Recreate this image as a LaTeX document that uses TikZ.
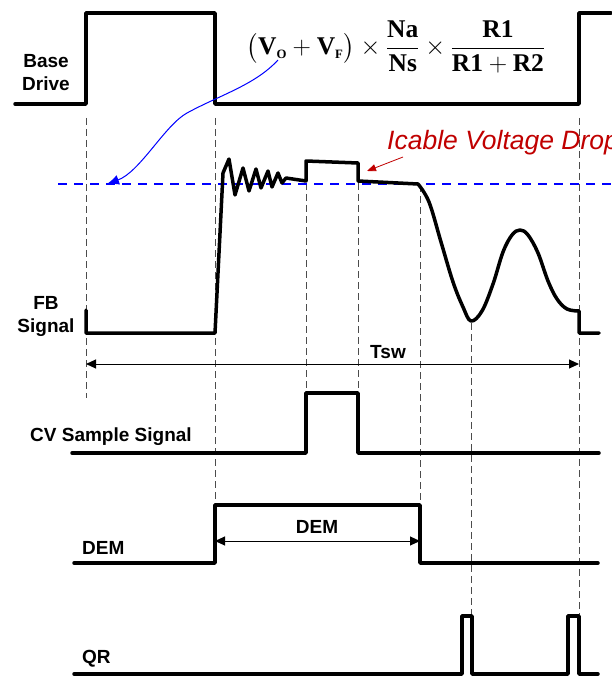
\RequirePackage{fix-cm}
\documentclass[tikz,border=0pt]{standalone}
\usepackage{amsmath}
\usepackage{fontspec}
\setmainfont{Liberation Serif}
\setsansfont{Liberation Sans}
\usetikzlibrary{arrows.meta}
\definecolor{dropred}{RGB}{192,0,0}
\definecolor{fbblue}{RGB}{0,0,255}
\newcommand\lblfont{\sffamily\bfseries\fontsize{19}{23}\selectfont}
\tikzset{
    signal/.style={
        line width=3.5pt,
        line join=round,
        line cap=round
    },
    guide/.style={
        dash pattern=on 7pt off 4pt,
        line width=0.9pt,
        draw=black!70
    },
    fbline/.style={
        color=fbblue,
        dash pattern=on 9pt off 7pt,
        line width=1.3pt
    },
    lbl/.style={
        font=\lblfont,
        inner sep=0pt
    },
    span/.style={
        {Triangle[length=10pt,width=9pt]}-{Triangle[length=10pt,width=9pt]},
        line width=1pt
    },
    formula/.style={
        font=\bfseries\fontsize{25.5}{30}\selectfont,
        inner sep=0pt
    }
}

\begin{document}
\begin{tikzpicture}[x=1pt,y=-1pt]
\useasboundingbox (0,0) rectangle (611,676);

% guide lines
\foreach \x/\ya/\yb in {86/118/398, 215/118/505, 306/183/393, 358/183/393,
                        420/185/505, 471/323/616, 579/118/616}
    \draw[guide] (\x,\ya) -- (\x,\yb);

\draw[fbline] (58,184) -- (611,184);

% labels
\node[lbl, align=center] (base) at (46,73) {Base\\Drive};
\node[lbl, align=center] (fb) at (46,316) {FB\\Signal};
\node[lbl, anchor=west] (cv) at (30,437) {CV Sample Signal};
\node[lbl, anchor=west] (dem) at (82,548) {DEM};
\node[lbl, anchor=west] (qr) at (82,659) {QR};
\node[lbl] (tsw) at (388,352) {Tsw};
\node[lbl] (demspan) at (317,527) {DEM};
\node[formula] (gain) at (396,47)
    {$\bigl(\text{V}_{\scriptscriptstyle\text{O}} + \text{V}_{\scriptscriptstyle\text{F}}\bigr)\times
      \dfrac{\text{Na}}{\text{Ns}}\times\dfrac{\text{R1}}{\text{R1}+\text{R2}}$};
\node[font=\sffamily\itshape\fontsize{26.5}{31}\selectfont, text=dropred,
      anchor=west, inner sep=0pt] (drop) at (387,143) {Icable Voltage Drop};

% waveforms
\draw[signal] (15,104) -- (86,104) -- (86,13) -- (215,13) -- (215,104)
    -- (579,104) -- (579,13) -- (611,13);

\draw[signal] (86,310) -- (86,333) -- (215,333) -- (223,173) -- (229,159)
    -- (235,195) -- (243,168) -- (249,191) -- (256,169) -- (261,188)
    -- (268,171) -- (272,187) -- (278,173) -- (282,183) -- (286,178)
    -- (306,181) -- (306,161) -- (358,163) -- (358,181) -- (418,184)
    -- plot[smooth, tension=0.6] coordinates {(418,184) (429,202) (441,242)
       (453,282) (463,307) (471,321) (482,311) (493,284) (503,252) (512,235)
       (520,230) (528,235) (538,253) (548,281) (557,299) (567,309) (579,311)}
    -- (579,333) -- (599,333);

\draw[signal] (72,453) -- (306,453) -- (306,393) -- (358,393) -- (358,453)
    -- (599,453);

\draw[signal] (74,563) -- (215,563) -- (215,505) -- (420,505) -- (420,563)
    -- (598,563);

\draw[signal] (74,674) -- (462,674) -- (462,616) -- (472,616) -- (472,674)
    -- (568,674) -- (568,616) -- (579,616) -- (579,674) -- (598,674);

% annotations
\coordinate (tswL) at (86,364);
\coordinate (tswR) at (579,364);
\coordinate (demL) at (215,541);
\coordinate (demR) at (420,541);
\coordinate (vo) at (278,60);
\coordinate (vlevel) at (107,184);
\coordinate (dropA) at (403,157);
\coordinate (dropB) at (367,171);

\draw[span] (tswL) -- (tswR);
\draw[span] (demL) -- (demR);
\draw[fbblue, line width=1pt, -{Latex[length=12pt,width=10pt]}]
    (vo) .. controls (255,85) and (220,95) .. (187,113)
    .. controls (165,125) and (140,172) .. (vlevel);
\draw[dropred, line width=0.8pt, -{Triangle[length=9pt,width=7pt]}]
    (dropA) -- (dropB);

\end{tikzpicture}
\end{document}
